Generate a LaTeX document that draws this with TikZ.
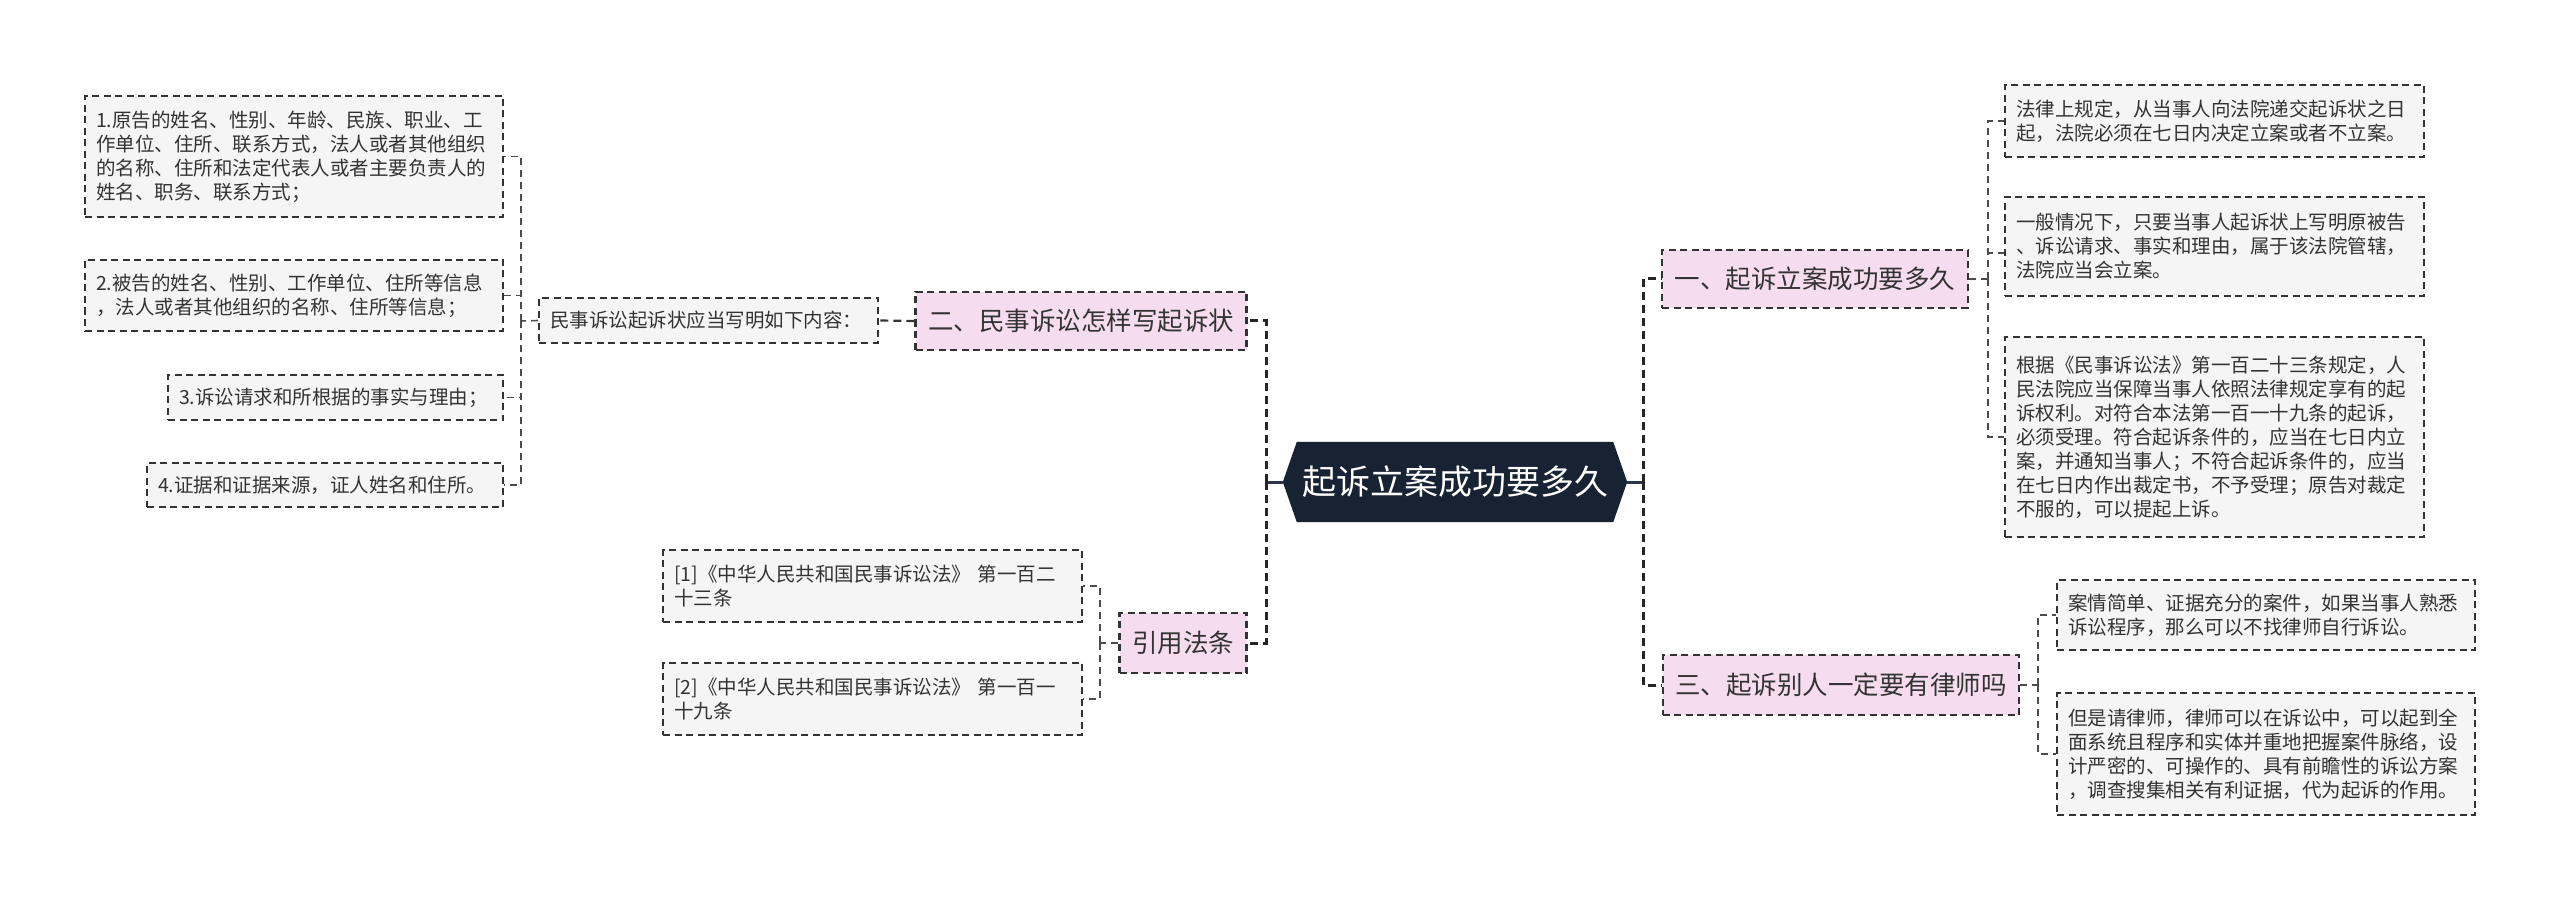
\documentclass[tikz,border=0pt]{standalone}
\usepackage{fontspec}
\newfontfamily\cjk{Noto Sans CJK SC}
\usetikzlibrary{calc,backgrounds}
\definecolor{rootcol}{HTML}{172232}
\definecolor{rootline}{HTML}{2B3445}
\definecolor{pinkfill}{HTML}{F5DCEF}
\definecolor{leaffill}{HTML}{F5F5F5}
\definecolor{bordercol}{HTML}{333333}
\definecolor{textcol}{HTML}{333333}
\begin{document}
\begin{tikzpicture}[x=1pt,y=-1pt,
  leafbox/.style={draw=bordercol, fill=leaffill, line width=1.8pt,
    dash pattern=on 7pt off 4.5pt, inner xsep=11pt, inner ysep=0pt,
    align=left, text=textcol, text width=#1pt,
    font=\cjk\fontsize{19.5}{24}\selectfont},
  topicbox/.style={draw=bordercol, fill=pinkfill, line width=2.2pt,
    dash pattern=on 7pt off 4.5pt, inner xsep=12.5pt, inner ysep=0pt,
    minimum height=58pt, text=textcol,
    font=\cjk\fontsize{25.5}{30}\selectfont},
  rootnode/.style={minimum width=344pt, minimum height=80pt, inner sep=0pt,
    text=white, font=\cjk\fontsize{34}{40}\selectfont},
  rootconn/.style={draw=rootline, line width=3pt},
  mainconn/.style={draw=black!85, line width=3pt, dash pattern=on 8pt off 5pt},
  midconn/.style={draw=black!80, line width=2.2pt, dash pattern=on 8pt off 5pt},
  leafconn/.style={draw=black!70, line width=1.6pt, dash pattern=on 7pt off 5pt}
]
\useasboundingbox (0,0) rectangle (2560,901);

% root
\node[rootnode] (root) at (1455,482) {起诉立案成功要多久};

% main topics
\node[topicbox] (T2) at (1081,321) {二、民事诉讼怎样写起诉状};
\node[topicbox, minimum height=60pt] (T4) at (1183,643) {引用法条};
\node[topicbox] (T1) at (1815,279) {一、起诉立案成功要多久};
\node[topicbox, minimum height=60pt] (T3) at (1841,685) {三、起诉别人一定要有律师吗};

% left subtree
\node[leafbox=317, minimum height=45pt] (M) at (708.5,320.5) {民事诉讼起诉状应当写明如下内容：};
\node[leafbox=396, minimum height=121pt] (L1) at (294,156.5) {1.原告的姓名、性别、年龄、民族、职业、工\\作单位、住所、联系方式，法人或者其他组织\\的名称、住所和法定代表人或者主要负责人的\\姓名、职务、联系方式；};
\node[leafbox=396, minimum height=71pt] (L2) at (294,295.5) {2.被告的姓名、性别、工作单位、住所等信息\\，法人或者其他组织的名称、住所等信息；};
\node[leafbox=313, minimum height=45pt] (L3) at (335.5,397.5) {3.诉讼请求和所根据的事实与理由；};
\node[leafbox=334, minimum height=44pt] (L4) at (325,485) {4.证据和证据来源，证人姓名和住所。};

\node[leafbox=397, minimum height=72pt] (R1) at (872.5,586) {[1]《中华人民共和国民事诉讼法》 第一百二\\十三条};
\node[leafbox=397, minimum height=72pt] (R2) at (872.5,699) {[2]《中华人民共和国民事诉讼法》 第一百一\\十九条};

% right subtree
\node[leafbox=397, minimum height=72pt] (A1) at (2214.5,121) {法律上规定，从当事人向法院递交起诉状之日\\起，法院必须在七日内决定立案或者不立案。};
\node[leafbox=397, minimum height=99pt] (A2) at (2214.5,246.5) {一般情况下，只要当事人起诉状上写明原被告\\、诉讼请求、事实和理由，属于该法院管辖，\\法院应当会立案。};
\node[leafbox=397, minimum height=200pt] (A3) at (2214.5,437) {根据《民事诉讼法》第一百二十三条规定，人\\民法院应当保障当事人依照法律规定享有的起\\诉权利。对符合本法第一百一十九条的起诉，\\必须受理。符合起诉条件的，应当在七日内立\\案，并通知当事人；不符合起诉条件的，应当\\在七日内作出裁定书，不予受理；原告对裁定\\不服的，可以提起上诉。};
\node[leafbox=396, minimum height=70pt] (B1) at (2266,615) {案情简单、证据充分的案件，如果当事人熟悉\\诉讼程序，那么可以不找律师自行诉讼。};
\node[leafbox=396, minimum height=122pt] (B2) at (2266,754) {但是请律师，律师可以在诉讼中，可以起到全\\面系统且程序和实体并重地把握案件脉络，设\\计严密的、可操作的、具有前瞻性的诉讼方案\\，调查搜集相关有利证据，代为起诉的作用。};

% junction coordinates
\coordinate (jl) at (1266,482);
\coordinate (jr) at (1643,482);
\coordinate (ml) at (521,321);
\coordinate (rl) at (1100,643);
\coordinate (ar) at (1988,279);
\coordinate (br) at (2038,685);

% connectors from root
\draw[rootconn] (root.west) -- (jl);
\draw[rootconn] (root.east) -- (jr);
\draw[mainconn] (jl) |- (T2.east);
\draw[mainconn] (jl) |- (T4.east);
\draw[mainconn] (jr) |- (T1.west);
\draw[mainconn] (jr) |- (T3.west);

% left subtree connectors
\draw[midconn] (T2.west) -- (M.east);
\draw[leafconn] (M.west) -- (ml);
\draw[leafconn] (ml) |- (L1.east);
\draw[leafconn] (ml) |- (L2.east);
\draw[leafconn] (ml) |- (L3.east);
\draw[leafconn] (ml) |- (L4.east);
\draw[leafconn] (T4.west) -- (rl);
\draw[leafconn] (rl) |- (R1.east);
\draw[leafconn] (rl) |- (R2.east);

% right subtree connectors
\draw[leafconn] (T1.east) -- (ar);
\draw[leafconn] (ar) |- (A1.west);
\draw[leafconn] (ar) |- ($(A2.west)+(0,6.5)$);
\draw[leafconn] (ar) |- (A3.west);
\draw[leafconn] (T3.east) -- (br);
\draw[leafconn] (br) |- (B1.west);
\draw[leafconn] (br) |- (B2.west);

\begin{scope}[on background layer]
\fill[white] (0,0) rectangle (2560,901);
\fill[rootcol] (root.west) -- ($(root.north west)+(14,0)$) -- ($(root.north east)+(-14,0)$)
  -- (root.east) -- ($(root.south east)+(-14,0)$) -- ($(root.south west)+(14,0)$) -- cycle;
\end{scope}
\end{tikzpicture}
\end{document}
